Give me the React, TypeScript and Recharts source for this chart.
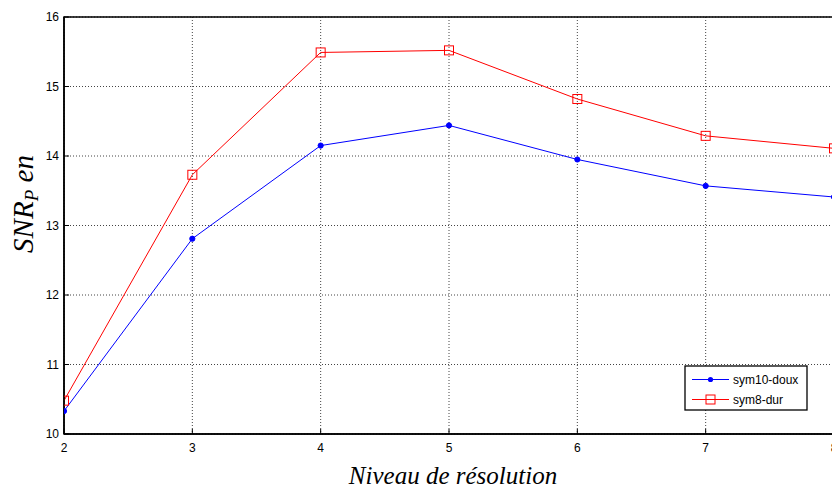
import React from 'react';
import { LineChart, Line, XAxis, YAxis, CartesianGrid, Legend, ReferenceArea } from 'recharts';

const levels = [2, 3, 4, 5, 6, 7, 8];
const sym10Doux = [10.33, 12.81, 14.15, 14.44, 13.95, 13.57, 13.41];
const sym8Dur = [10.48, 13.73, 15.49, 15.52, 14.82, 14.29, 14.11];
const xTicks = [2, 3, 4, 5, 6, 7, 8];
const yTicks = [10, 11, 12, 13, 14, 15, 16];
const seriesNames = ['sym10-doux', 'sym8-dur'];
const xLabel = 'Niveau de résolution';

const data = levels.map((l, i) => ({ level: l, doux: sym10Doux[i], dur: sym8Dur[i] }));

const BLUE = '#0000ff';
const RED = '#ff0000';
const tickFont = { fontFamily: 'Liberation Sans, Arial, sans-serif', fontSize: 12, fill: '#000' };

const SquareDot = (props: any) => {
  const { cx, cy, index } = props;
  if (cx == null || cy == null) return <g key={`s${index}`} />;
  return <rect key={`s${index}`} x={cx - 4.5} y={cy - 4.5} width={9} height={9} fill="none" stroke={RED} strokeWidth={1} />;
};

const CircleDot = (props: any) => {
  const { cx, cy, index } = props;
  if (cx == null || cy == null) return <g key={`c${index}`} />;
  return <circle key={`c${index}`} cx={cx} cy={cy} r={2.6} fill={BLUE} stroke={BLUE} />;
};

const LegendBox = () => (
  <svg width={124} height={47} style={{ display: 'block' }}>
    <rect x={1} y={1} width={122} height={44} fill="#fff" stroke="#000" strokeWidth={1.3} />
    <line x1={8} x2={45} y1={14.5} y2={14.5} stroke={BLUE} strokeWidth={1} />
    <circle cx={26.5} cy={14.5} r={2.6} fill={BLUE} />
    <text x={49} y={18.5} style={{ fontFamily: 'Liberation Sans, Arial, sans-serif', fontSize: 12 }} fill="#000">{seriesNames[0]}</text>
    <line x1={8} x2={45} y1={34.5} y2={34.5} stroke={RED} strokeWidth={1} />
    <rect x={22} y={30} width={9} height={9} fill="none" stroke={RED} />
    <text x={49} y={38.5} style={{ fontFamily: 'Liberation Sans, Arial, sans-serif', fontSize: 12 }} fill="#000">{seriesNames[1]}</text>
  </svg>
);

export default function App() {
  return (
    <div style={{ position: 'absolute', left: 0, top: 0, width: 832, height: 491, overflow: 'hidden', background: '#fff' }}>
      <LineChart width={845} height={491} data={data} margin={{ top: 17, right: 11, left: 20, bottom: 17 }}>
        <CartesianGrid stroke="#444" strokeDasharray="1 2" strokeWidth={1} />
        <XAxis
          dataKey="level"
          type="number"
          domain={[2, 8]}
          ticks={xTicks}
          height={40}
          tickSize={-5}
          tickMargin={14}
          tick={tickFont}
          axisLine={{ stroke: '#000', strokeWidth: 1.5 }}
          tickLine={{ stroke: '#000' }}
          allowDataOverflow
        />
        <XAxis
          xAxisId="top"
          orientation="top"
          type="number"
          domain={[2, 8]}
          ticks={xTicks}
          height={0}
          tickSize={-5}
          tick={false}
          axisLine={{ stroke: '#000', strokeWidth: 1.5 }}
          tickLine={{ stroke: '#000' }}
        />
        <YAxis
          type="number"
          domain={[10, 16]}
          ticks={yTicks}
          width={44}
          tickSize={-5}
          tickMargin={10}
          tick={tickFont}
          axisLine={{ stroke: '#000', strokeWidth: 1.5 }}
          tickLine={{ stroke: '#000' }}
          allowDataOverflow
        />
        <YAxis
          yAxisId="right"
          orientation="right"
          type="number"
          domain={[10, 16]}
          ticks={yTicks}
          width={0}
          tickSize={-5}
          tick={false}
          axisLine={{ stroke: '#000', strokeWidth: 1.5 }}
          tickLine={{ stroke: '#000' }}
        />
        <ReferenceArea x1={2} x2={8} y1={10} y2={16} fill="none" fillOpacity={0} stroke="#000" strokeWidth={1.5} ifOverflow="visible" />
        <Line type="linear" dataKey="doux" name={seriesNames[0]} stroke={BLUE} strokeWidth={1} dot={CircleDot} isAnimationActive={false} />
        <Line type="linear" dataKey="dur" name={seriesNames[1]} stroke={RED} strokeWidth={1} dot={SquareDot} isAnimationActive={false} />
        <Legend
          layout="vertical"
          align="center"
          verticalAlign="middle"
          wrapperStyle={{ position: 'absolute', left: 684, top: 365, width: 124, height: 47 }}
          content={() => <LegendBox />}
        />
      </LineChart>
      <svg width={832} height={491} style={{ position: 'absolute', left: 0, top: 0, pointerEvents: 'none' }}>
        <text
          x={453}
          y={484}
          textAnchor="middle"
          style={{ fontFamily: 'Liberation Serif, Times New Roman, serif', fontStyle: 'italic', fontSize: 25 }}
          fill="#000"
        >
          {xLabel}
        </text>
        <text
          transform="translate(33,204) rotate(-90)"
          textAnchor="middle"
          style={{ fontFamily: 'Liberation Serif, Times New Roman, serif', fontStyle: 'italic', fontSize: 29 }}
          fill="#000"
        >
          SNR
          <tspan fontSize={19} dy={5}>P</tspan>
          <tspan dy={-5}>{'  en'}</tspan>
        </text>
      </svg>
    </div>
  );
}
